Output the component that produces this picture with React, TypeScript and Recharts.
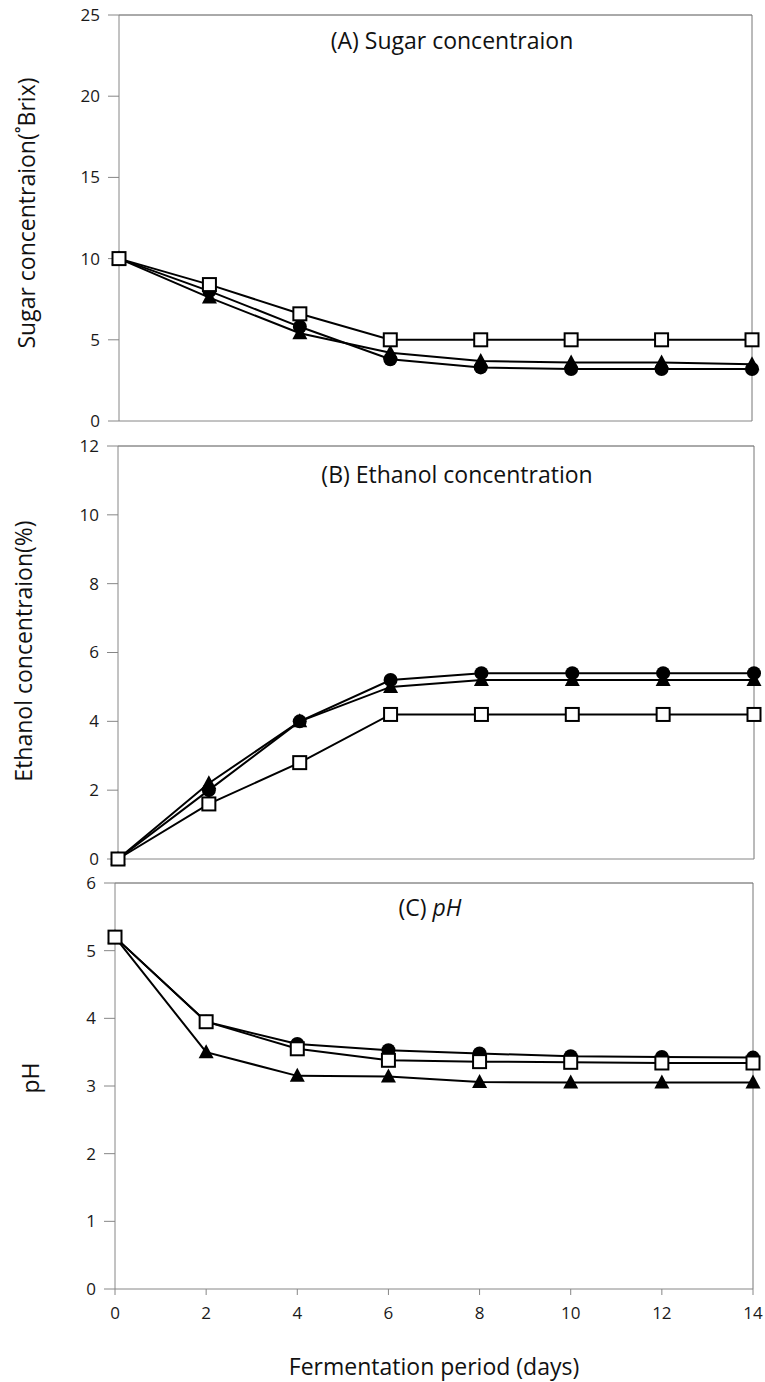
import { Line, LineChart, ReferenceLine, XAxis, YAxis } from 'recharts';

const days = [0, 2, 4, 6, 8, 10, 12, 14];

// (A) sugar, °Brix
const sugarCircle = [10, 8.0, 5.8, 3.8, 3.3, 3.2, 3.2, 3.2];
const sugarTriangle = [10, 7.6, 5.4, 4.2, 3.7, 3.6, 3.6, 3.5];
const sugarSquare = [10, 8.4, 6.6, 5.0, 5.0, 5.0, 5.0, 5.0];

// (B) ethanol, %
const ethanolCircle = [0, 2.0, 4.0, 5.2, 5.4, 5.4, 5.4, 5.4];
const ethanolTriangle = [0, 2.2, 4.0, 5.0, 5.2, 5.2, 5.2, 5.2];
const ethanolSquare = [0, 1.6, 2.8, 4.2, 4.2, 4.2, 4.2, 4.2];

// (C) pH
const phCircle = [5.2, 3.95, 3.62, 3.53, 3.48, 3.44, 3.43, 3.42];
const phTriangle = [5.2, 3.5, 3.15, 3.14, 3.06, 3.05, 3.05, 3.05];
const phSquare = [5.2, 3.95, 3.55, 3.38, 3.36, 3.35, 3.34, 3.34];

const sugarTicks = [0, 5, 10, 15, 20, 25];
const ethanolTicks = [0, 2, 4, 6, 8, 10, 12];
const phTicks = [0, 1, 2, 3, 4, 5, 6];

const FONT = '"Open Sans", sans-serif';
const AXIS = '#868686';

function build(circle: number[], triangle: number[], square: number[]) {
  return days.map((d, i) => ({ day: d, circle: circle[i], triangle: triangle[i], square: square[i] }));
}

function TriangleDot(props: any) {
  const { cx, cy, index } = props;
  if (cx == null || cy == null) return null;
  return <polygon key={`t${index}`} points={`${cx},${cy - 8} ${cx - 7.5},${cy + 6} ${cx + 7.5},${cy + 6}`} fill="#000" />;
}

function SquareDot(props: any) {
  const { cx, cy, index } = props;
  if (cx == null || cy == null) return null;
  return <rect key={`s${index}`} x={cx - 6.5} y={cy - 6.5} width={13} height={13} fill="#fff" stroke="#000" strokeWidth={2} />;
}

// tick text drawn by hand so the font size sticks
function YTick(props: any) {
  const { x, y, payload } = props;
  return (
    <text x={x} y={y} dy="0.35em" textAnchor="end" fontSize={17} fontFamily={FONT} fill="#1a1a1a">
      {payload.value}
    </text>
  );
}

function XTick(props: any) {
  const { x, y, payload } = props;
  return (
    <text x={x} y={y} dy="0.71em" textAnchor="middle" fontSize={17} fontFamily={FONT} fill="#1a1a1a">
      {payload.value}
    </text>
  );
}

interface PanelProps {
  data: any[];
  top: number;
  height: number;
  marginTop: number;
  marginBottom: number;
  marginLeft: number;
  marginRight: number;
  yMax: number;
  yTicks: number[];
  showX?: boolean;
}

function Panel({ data, top, height, marginTop, marginBottom, marginLeft, marginRight, yMax, yTicks, showX }: PanelProps) {
  return (
    <div style={{ position: 'absolute', left: 0, top }}>
      <LineChart width={765} height={height} data={data} margin={{ top: marginTop, right: marginRight, left: marginLeft, bottom: marginBottom }}>
        <XAxis
          dataKey="day"
          type="number"
          domain={[0, 14]}
          ticks={days}
          stroke={AXIS}
          height={showX ? 30 : 1}
          tick={showX ? <XTick /> : false}
          tickLine={showX ? { stroke: AXIS } : false}
          tickSize={6}
          tickMargin={12}
        />
        <YAxis
          type="number"
          domain={[0, yMax]}
          ticks={yTicks}
          width={60}
          stroke={AXIS}
          tick={<YTick />}
          tickSize={11}
          tickMargin={8}
        />
        <ReferenceLine y={yMax} stroke="#555" />
        <ReferenceLine x={14} stroke="#777" />
        <Line dataKey="triangle" stroke="#000" strokeWidth={2} dot={TriangleDot} isAnimationActive={false} />
        <Line dataKey="circle" stroke="#000" strokeWidth={2} dot={{ r: 7, fill: '#000', stroke: '#000', strokeWidth: 0 }} isAnimationActive={false} />
        <Line dataKey="square" stroke="#000" strokeWidth={2} dot={SquareDot} isAnimationActive={false} />
      </LineChart>
    </div>
  );
}

function VLabel({ x, y, text }: { x: number; y: number; text: string }) {
  return (
    <div style={{ position: 'absolute', left: x, top: y, transform: 'translate(-50%, -50%) rotate(-90deg)', whiteSpace: 'nowrap', fontSize: 23, fontFamily: FONT, color: '#111' }}>
      {text}
    </div>
  );
}

function Title({ x, y, children, size = 23 }: { x: number; y: number; children: any; size?: number }) {
  return (
    <div style={{ position: 'absolute', left: x, top: y, transform: 'translate(-50%, -50%)', whiteSpace: 'nowrap', fontSize: size, fontFamily: FONT, color: '#111' }}>
      {children}
    </div>
  );
}

export default function App() {
  return (
    <div style={{ position: 'absolute', left: 0, top: 0, width: 765, height: 1382, background: '#fff', overflow: 'hidden' }}>
      <Panel data={build(sugarCircle, sugarTriangle, sugarSquare)} top={0} height={440} marginTop={15} marginBottom={18} marginLeft={59} marginRight={13} yMax={25} yTicks={sugarTicks} />
      <Panel data={build(ethanolCircle, ethanolTriangle, ethanolSquare)} top={430} height={440} marginTop={16} marginBottom={10} marginLeft={58} marginRight={11} yMax={12} yTicks={ethanolTicks} />
      <Panel data={build(phCircle, phTriangle, phSquare)} top={870} height={512} marginTop={13} marginBottom={63} marginLeft={55} marginRight={12} yMax={6} yTicks={phTicks} showX />

      <VLabel x={26} y={213} text="Sugar concentraion(˚Brix)" />
      <VLabel x={23} y={651} text="Ethanol concentraion(%)" />
      <VLabel x={30} y={1078} text="pH" />

      <Title x={452} y={40}>(A) Sugar concentraion</Title>
      <Title x={457} y={474}>(B) Ethanol concentration</Title>
      <Title x={430} y={907}>
        (C) <i>pH</i>
      </Title>
      <Title x={434} y={1366}>Fermentation period (days)</Title>
    </div>
  );
}
